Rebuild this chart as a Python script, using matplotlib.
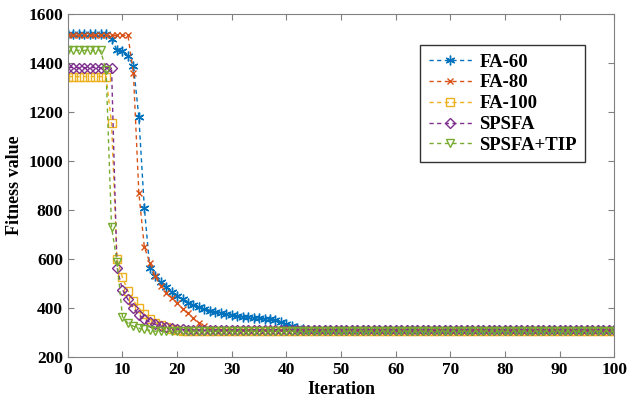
import numpy as np
import matplotlib.pyplot as plt

# Iterations 0..100
iterations = np.arange(0, 101)

# Fitness values
fa60 = ([1520] * 8 +
        [1500, 1452, 1450, 1430, 1390, 1180, 810, 565, 530, 505, 485, 465, 450,
         435, 422, 412, 403, 396, 390, 384, 379, 375, 371, 368, 365, 362, 360,
         358, 356, 354, 351, 345, 333, 325, 320, 315, 312] +
        [310] * 56)
fa80 = ([1513] * 12 +
        [1360, 870, 650, 585, 530, 490, 462, 440, 420, 398, 378, 358, 340, 325,
         316, 312] +
        [310] * 73)
fa100 = ([1345] * 8 +
         [1155, 600, 525, 470, 430, 400, 375, 355, 340, 330, 322, 316, 312] +
         [308] * 80)
spsfa = ([1382] * 9 +
         [565, 475, 435, 400, 372, 355, 342, 333, 327, 322, 318, 315, 313] +
         [311] * 79)
spsfa_tip = ([1452] * 7 +
             [1370, 730, 590, 365, 338, 326, 318, 313, 309] +
             [306] * 85)

series = [fa60, fa80, fa100, spsfa, spsfa_tip]
labels = ['FA-60', 'FA-80', 'FA-100', 'SPSFA', 'SPSFA+TIP']
colors = ['#0072BD', '#D95319', '#EDB120', '#7E2F8E', '#77AC30']
# asterisk like MATLAB '*': 6-armed star with zero inner radius
markers = [(6, 2, 0), 'x', 's', 'D', 'v']
msizes = [7, 5, 5.5, 5, 6]

plt.rcParams['font.family'] = ['Liberation Serif', 'DejaVu Serif']
plt.rcParams['font.weight'] = 'bold'

fig = plt.figure(figsize=(6.28, 4.03), dpi=100)
ax = fig.add_axes([0.108, 0.114, 0.87, 0.851])

for y, lab, c, m, ms in zip(series, labels, colors, markers, msizes):
    ax.plot(iterations, y, linestyle='--', color=c, marker=m, markersize=ms,
            markerfacecolor='none', markeredgecolor=c, markeredgewidth=1.0,
            linewidth=1.0, dashes=(3, 2.5), label=lab)

ax.set_xlim(0, 100)
ax.set_ylim(200, 1600)
ax.set_xticks(np.arange(0, 101, 10))
ax.set_yticks(np.arange(200, 1601, 200))
ax.tick_params(direction='in', top=True, right=True, labelsize=12.5,
               color='#808080', length=4)
for lab in ax.get_xticklabels() + ax.get_yticklabels():
    lab.set_fontweight('bold')
for sp in ax.spines.values():
    sp.set_color('#808080')
    sp.set_linewidth(0.8)

ax.set_xlabel('Iteration', fontsize=13, fontweight='bold', labelpad=2)
ax.set_ylabel('Fitness value', fontsize=13, fontweight='bold', labelpad=4)

leg = ax.legend(loc='upper left', bbox_to_anchor=(0.645, 0.91),
                frameon=True, fancybox=False, handlelength=2.3,
                borderpad=0.45, labelspacing=0.2, handletextpad=0.4,
                borderaxespad=0.0,
                prop={'weight': 'bold', 'size': 13.5})
leg.get_frame().set_edgecolor('black')
leg.get_frame().set_linewidth(1.0)

fig.savefig('out.png', dpi=100)
